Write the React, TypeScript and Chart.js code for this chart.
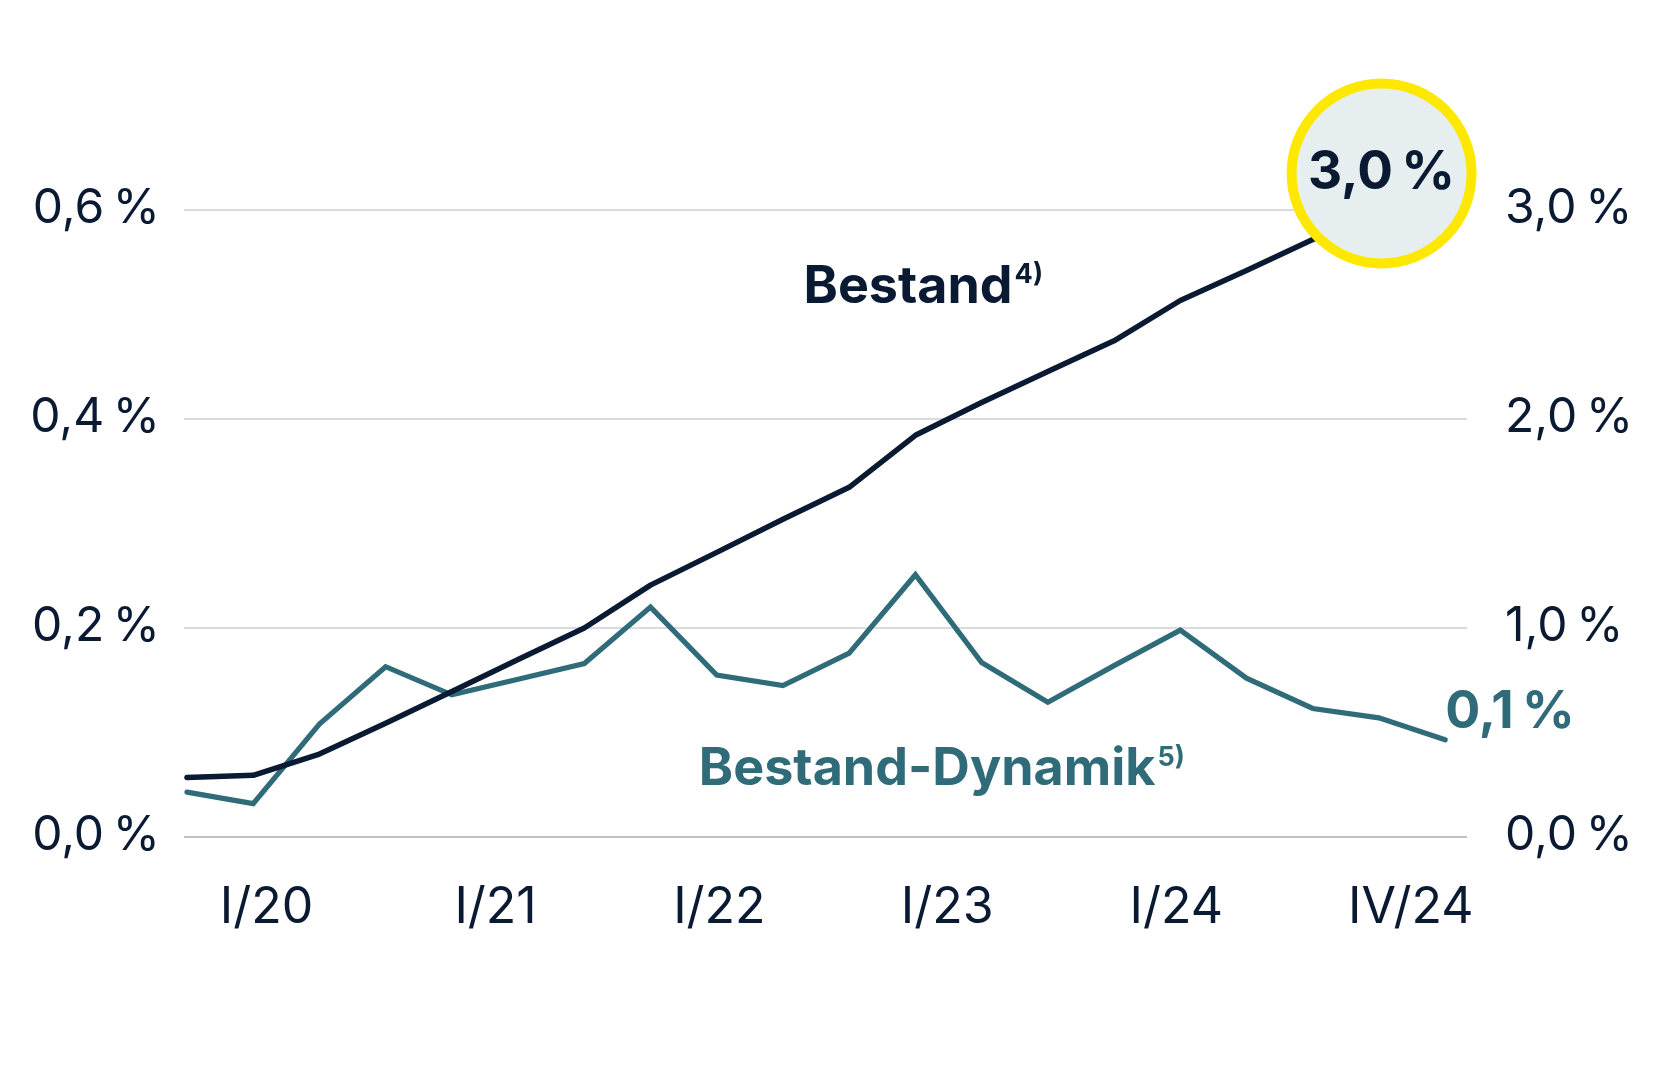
import React, { useEffect, useRef } from "react";
import { Chart, registerables } from "chart.js";

Chart.register(...registerables);

// ---- data ----
const quarters = [
  "I/20", "II/20", "III/20", "IV/20",
  "I/21", "II/21", "III/21", "IV/21",
  "I/22", "II/22", "III/22", "IV/22",
  "I/23", "II/23", "III/23", "IV/23",
  "I/24", "II/24", "III/24", "IV/24",
];
// Bestand-Dynamik (left axis, %)
const dynamik = [
  0.043, 0.032, 0.108, 0.163, 0.136, 0.151, 0.166, 0.22, 0.155, 0.145,
  0.176, 0.251, 0.167, 0.129, 0.164, 0.198, 0.152, 0.123, 0.114, 0.093,
];
// Bestand (right axis, %)
const bestand = [
  0.285, 0.295, 0.397, 0.544, 0.696, 0.849, 1.0, 1.205, 1.362, 1.52,
  1.673, 1.922, 2.079, 2.227, 2.374, 2.567, 2.71, 2.859, 2.95, 3.0,
];
const xTickLabels = ["I/20", "I/21", "I/22", "I/23", "I/24", "IV/24"];
const xTickAt = [1.2, 4.66, 8.04, 11.48, 14.94, 18.48];
const leftTicks = [0, 0.2, 0.4, 0.6];
const rightTicks = [0, 1, 2, 3];

// ---- styling ----
const NAVY = "#0A1A33";
const TEAL = "#2F6B78";
const YELLOW = "#FFE800";
const BUBBLE = "#E6EEF0";
const GRID = "#D8DBE0";
const GRID0 = "#BCC1C8";
const FONT = "Inter, 'Noto Sans', sans-serif";
const NS = "\u202F";

const textLabels = [
  { text: "Bestand", sup: "4)", x: 9.31, y: 2.557, axis: "yR", color: NAVY },
  { text: "Bestand-Dynamik", sup: "5)", x: 7.73, y: 0.0498, axis: "yL", color: TEAL },
  { text: "0,1" + NS + "%", sup: "", x: 19.0, y: 0.104, axis: "yL", color: TEAL },
];
const callout = { text: "3,0" + NS + "%", x: 18.04, y: 3.175, axis: "yR" };

const fmt = (v: number) => v.toFixed(1).replace(".", ",") + NS + "%";

export default function App() {
  const ref = useRef<HTMLCanvasElement>(null);

  useEffect(() => {
    if (!ref.current) return;

    const annotate = {
      id: "annotate",
      afterDatasetsDraw(chart: any) {
        const { ctx } = chart;
        const xs = chart.scales.x;
        ctx.save();
        for (const l of textLabels) {
          const px = xs.getPixelForValue(l.x);
          const py = chart.scales[l.axis].getPixelForValue(l.y);
          const size = 52;
          ctx.font = `700 ${size}px ${FONT}`;
          ctx.fillStyle = l.color;
          ctx.textAlign = "left";
          ctx.textBaseline = "alphabetic";
          ctx.fillText(l.text, px, py);
          if (l.sup) {
            const w = ctx.measureText(l.text).width;
            ctx.font = `700 ${Math.round(size * 0.52)}px ${FONT}`;
            ctx.fillText(l.sup, px + w + 2, py - size * 0.37);
          }
        }
        const cx = xs.getPixelForValue(callout.x);
        const cy = chart.scales[callout.axis].getPixelForValue(callout.y);
        ctx.beginPath();
        ctx.arc(cx, cy, 90, 0, Math.PI * 2);
        ctx.fillStyle = BUBBLE;
        ctx.fill();
        ctx.lineWidth = 10;
        ctx.strokeStyle = YELLOW;
        ctx.stroke();
        ctx.fillStyle = NAVY;
        ctx.font = `700 53px ${FONT}`;
        ctx.textAlign = "center";
        ctx.textBaseline = "middle";
        ctx.fillText(callout.text, cx, cy);
        ctx.restore();
      },
    };

    const chart = new Chart(ref.current, {
      type: "line",
      data: {
        labels: quarters,
        datasets: [
          {
            label: "Bestand",
            data: bestand.map((v, i) => ({ x: i, y: v })),
            yAxisID: "yR",
            borderColor: NAVY,
            borderWidth: 5.5,
            pointRadius: 0,
            tension: 0,
            borderJoinStyle: "round",
            borderCapStyle: "round",
            clip: false as any,
          },
          {
            label: "Bestand-Dynamik",
            data: dynamik.map((v, i) => ({ x: i, y: v })),
            yAxisID: "yL",
            borderColor: TEAL,
            borderWidth: 5.2,
            pointRadius: 0,
            tension: 0,
            borderJoinStyle: "miter",
            borderCapStyle: "round",
            clip: false as any,
          },
        ],
      },
      options: {
        responsive: false,
        animation: false,
        layout: { padding: { top: 210, left: 0, right: 0, bottom: 0 } },
        plugins: { legend: { display: false }, tooltip: { enabled: false } },
        scales: {
          x: {
            type: "linear",
            min: -0.045,
            max: 19.33,
            grid: { display: false, drawTicks: false },
            border: { display: false },
            afterBuildTicks: (s: any) => {
              s.ticks = xTickAt.map((v) => ({ value: v }));
            },
            afterFit: (s: any) => {
              s.height = 234;
            },
            ticks: {
              autoSkip: false,
              maxRotation: 0,
              padding: 41,
              color: NAVY,
              font: { family: FONT, size: 50, weight: "400" },
              callback: (_v: any, i: number) => xTickLabels[i],
            },
          },
          yL: {
            type: "linear",
            position: "left",
            min: 0,
            max: 0.6,
            afterBuildTicks: (s: any) => {
              s.ticks = leftTicks.map((v) => ({ value: v }));
            },
            afterFit: (s: any) => {
              s.width = 184;
            },
            grid: {
              drawTicks: false,
              lineWidth: 2,
              color: (c: any) => (c.tick && c.tick.value === 0 ? GRID0 : GRID),
            },
            border: { display: false },
            ticks: {
              padding: 24,
              labelOffset: -1,
              color: NAVY,
              font: { family: FONT, size: 48, weight: "400" },
              callback: (v: any) => fmt(Number(v)),
            },
          },
          yR: {
            type: "linear",
            position: "right",
            min: 0,
            max: 3.0,
            afterBuildTicks: (s: any) => {
              s.ticks = rightTicks.map((v) => ({ value: v }));
            },
            afterFit: (s: any) => {
              s.width = 200;
            },
            grid: { display: false, drawTicks: false },
            border: { display: false },
            ticks: {
              padding: 38,
              labelOffset: -1,
              color: NAVY,
              font: { family: FONT, size: 48, weight: "400" },
              callback: (v: any) => fmt(Number(v)),
            },
          },
        },
      },
      plugins: [annotate],
    } as any);

    return () => chart.destroy();
  }, []);

  return (
    <div style={{ position: "absolute", left: 0, top: 0, width: 1667, height: 1071, background: "#fff" }}>
      <canvas ref={ref} width={1667} height={1071} style={{ display: "block" }} />
    </div>
  );
}
